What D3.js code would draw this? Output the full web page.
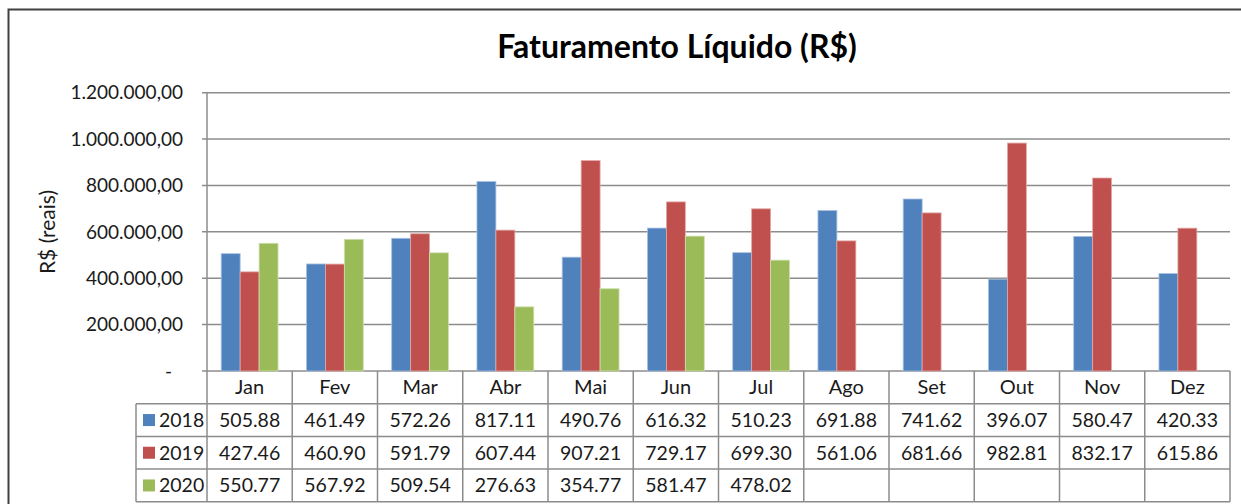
<!DOCTYPE html>
<html>
<head>
<meta charset="utf-8">
<script src="https://cdn.jsdelivr.net/npm/d3@7"></script>
<style>
  body { margin: 0; background: #fff; }
  svg { display: block; }
  text { font-family: Lato, "Open Sans", sans-serif; fill: #1a1a1a; }
</style>
</head>
<body>
<svg id="chart"></svg>
<script>
// Monthly net revenue, thousands of R$ (as shown in the data table)
const months = ["Jan", "Fev", "Mar", "Abr", "Mai", "Jun", "Jul", "Ago", "Set", "Out", "Nov", "Dez"];
const series = ["2018", "2019", "2020"];
const values2018 = ["505.88", "461.49", "572.26", "817.11", "490.76", "616.32", "510.23", "691.88", "741.62", "396.07", "580.47", "420.33"];
const values2019 = ["427.46", "460.90", "591.79", "607.44", "907.21", "729.17", "699.30", "561.06", "681.66", "982.81", "832.17", "615.86"];
const values2020 = ["550.77", "567.92", "509.54", "276.63", "354.77", "581.47", "478.02", null, null, null, null, null];
const yTicks = [0, 200000, 400000, 600000, 800000, 1000000, 1200000];
const colors = ["#4F81BD", "#C0504D", "#9BBB59"];
const strokes = ["#a9c0e0", "#e2a8a6", "#cfe0b0"];

const W = 1241, H = 504;
const plot = { left: 207, right: 1230, top: 92.7, bottom: 371 };
const rowH = 32.7;
const headLeft = 136;

const svg = d3.select("#chart").attr("width", W).attr("height", H);

// outer chart frame (cropped at right/bottom)
svg.append("rect")
    .attr("x", 8.5).attr("y", 9.5)
    .attr("width", 1300).attr("height", 600)
    .attr("fill", "none")
    .attr("stroke", "#404040")
    .attr("stroke-width", 2);

// title
svg.append("text")
    .attr("x", 677).attr("y", 58)
    .attr("text-anchor", "middle")
    .style("font-size", "32px")
    .style("font-weight", "bold")
    .style("fill", "#000")
    .text("Faturamento Líquido (R$)");

const rows = [values2018, values2019, values2020];
const data = months.map((m, i) => {
    const o = { month: m };
    series.forEach((s, j) => { o[s] = rows[j][i] == null ? null : +rows[j][i] * 1000; });
    return o;
});

const x0 = d3.scaleBand().domain(months).range([plot.left, plot.right]);
const gap = x0.bandwidth() * 1.5 / 4.5;
const x1 = d3.scaleBand().domain(series).range([gap / 2, x0.bandwidth() - gap / 2]);
const y = d3.scaleLinear().domain([0, 1200000]).range([plot.bottom, plot.top]);

const ptBR = d3.formatLocale({ decimal: ",", thousands: ".", grouping: [3], currency: ["R$", ""] });
const fmt = ptBR.format(",.2f");

// gridlines
svg.append("g").selectAll("line")
    .data(yTicks)
    .join("line")
    .attr("x1", plot.left - 5).attr("x2", plot.right)
    .attr("y1", d => y(d)).attr("y2", d => y(d))
    .attr("stroke", "#8c8c8c")
    .attr("stroke-width", 1.5);

// y axis line
svg.append("line")
    .attr("x1", plot.left).attr("x2", plot.left)
    .attr("y1", plot.top).attr("y2", plot.bottom + rowH * 4)
    .attr("stroke", "#8c8c8c")
    .attr("stroke-width", 1.5);

// tick labels
svg.append("g").selectAll("text")
    .data(yTicks)
    .join("text")
    .attr("x", d => d === 0 ? 172 : 183)
    .attr("y", d => y(d))
    .attr("dy", "0.35em")
    .attr("text-anchor", "end")
    .style("font-size", "19px")
    .text(d => d === 0 ? "-" : fmt(d));

// y axis title
svg.append("text")
    .attr("transform", "translate(55,232) rotate(-90)")
    .attr("text-anchor", "middle")
    .style("font-size", "21px")
    .text("R$ (reais)");

// bars
const groups = svg.append("g").selectAll("g")
    .data(data)
    .join("g")
    .attr("transform", d => `translate(${x0(d.month)},0)`);

groups.selectAll("rect")
    .data(d => series.map((s, j) => ({ key: s, j: j, value: d[s] })).filter(e => e.value != null))
    .join("rect")
    .attr("x", d => x1(d.key))
    .attr("y", d => y(d.value))
    .attr("width", x1.bandwidth())
    .attr("height", d => y(0) - y(d.value))
    .attr("fill", d => colors[d.j])
    .attr("stroke", d => strokes[d.j])
    .attr("stroke-width", 0.8);

// data table
const table = svg.append("g");
const tableBottom = plot.bottom + rowH * 4;

// horizontal lines
table.selectAll("line.h")
    .data([1, 2, 3, 4])
    .join("line")
    .attr("class", "h")
    .attr("x1", headLeft).attr("x2", plot.right)
    .attr("y1", d => plot.bottom + rowH * d).attr("y2", d => plot.bottom + rowH * d)
    .attr("stroke", "#8c8c8c")
    .attr("stroke-width", 1.5);

// vertical lines
table.selectAll("line.v")
    .data(months.map(m => x0(m) + x0.bandwidth()))
    .join("line")
    .attr("class", "v")
    .attr("x1", d => d).attr("x2", d => d)
    .attr("y1", plot.bottom).attr("y2", tableBottom)
    .attr("stroke", "#8c8c8c")
    .attr("stroke-width", 1.5);

table.append("line")
    .attr("x1", headLeft).attr("x2", headLeft)
    .attr("y1", plot.bottom + rowH).attr("y2", tableBottom)
    .attr("stroke", "#8c8c8c")
    .attr("stroke-width", 1.5);

// month headers
table.selectAll("text.month")
    .data(months)
    .join("text")
    .attr("class", "month")
    .attr("x", d => x0(d) + x0.bandwidth() / 2)
    .attr("y", plot.bottom + rowH / 2)
    .attr("dy", "0.35em")
    .attr("text-anchor", "middle")
    .style("font-size", "20px")
    .text(d => d);

// series rows
series.forEach((s, j) => {
    const cy = plot.bottom + rowH * (j + 1) + rowH / 2;
    table.append("rect")
        .attr("x", 143).attr("y", cy - 6)
        .attr("width", 12).attr("height", 12)
        .attr("fill", colors[j]);
    table.append("text")
        .attr("x", 159).attr("y", cy)
        .attr("dy", "0.35em")
        .style("font-size", "19.5px")
        .text(s);
    table.selectAll("text.v" + s)
        .data(rows[j])
        .join("text")
        .attr("class", "v" + s)
        .attr("x", (d, i) => x0(months[i]) + x0.bandwidth() / 2)
        .attr("y", cy)
        .attr("dy", "0.35em")
        .attr("text-anchor", "middle")
        .style("font-size", "19.5px")
        .text(d => d == null ? "" : d);
});
</script>
</body>
</html>
